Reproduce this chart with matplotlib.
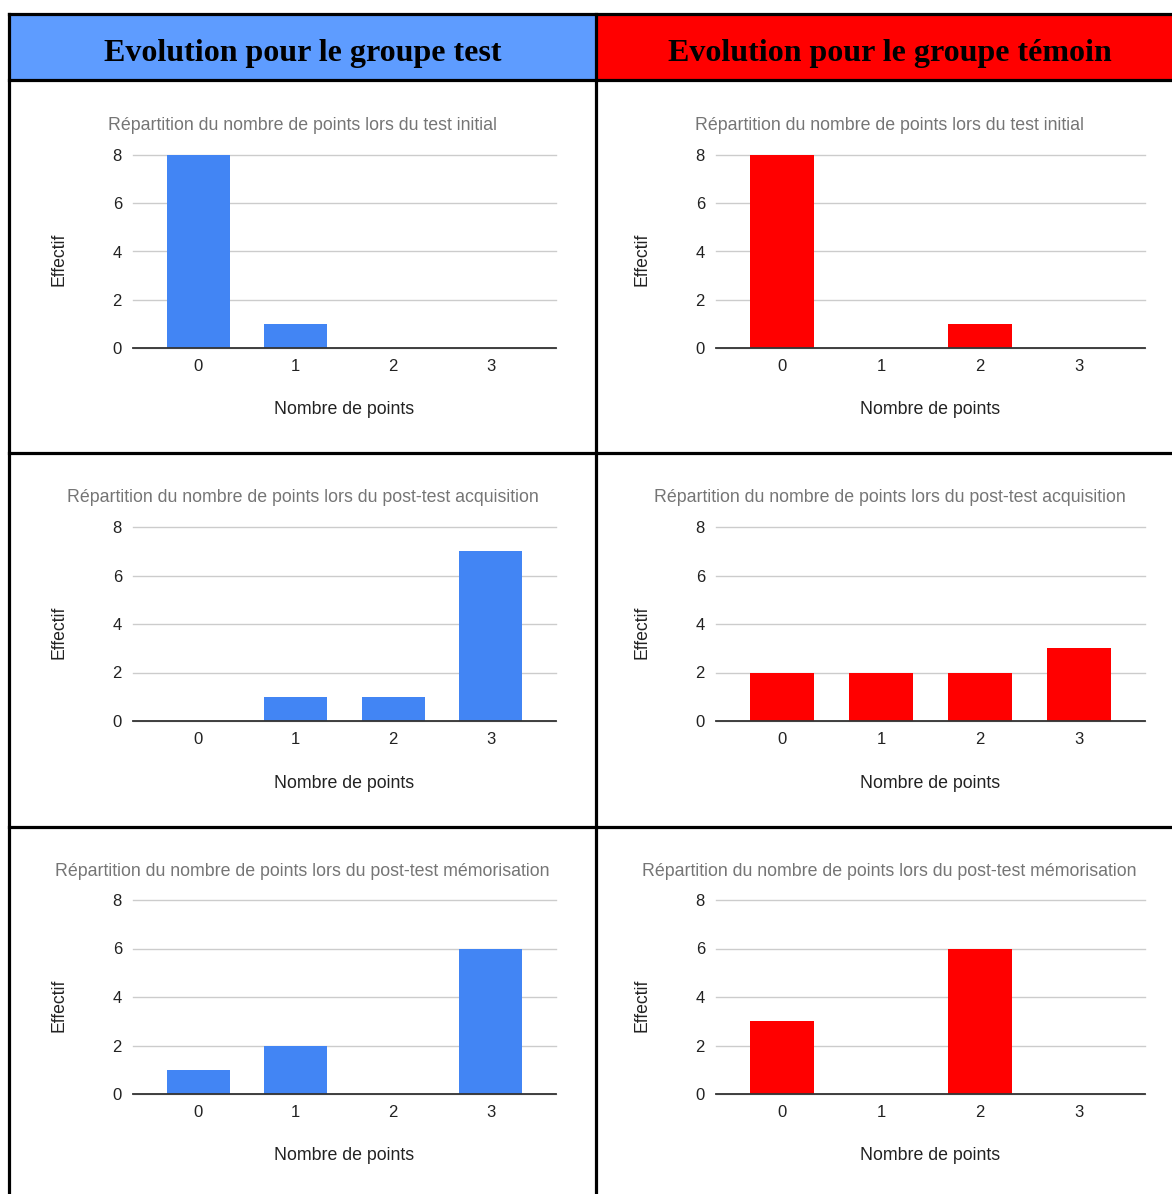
import matplotlib
matplotlib.use("Agg")
import matplotlib.pyplot as plt
from matplotlib.lines import Line2D
from matplotlib.patches import Rectangle

W, H = 1172, 1194
DPI = 100

categories = [0, 1, 2, 3]
yticks = [0, 2, 4, 6, 8]

headers = ["Evolution pour le groupe test", "Evolution pour le groupe témoin"]
titles = [
    "Répartition du nombre de points lors du test initial",
    "Répartition du nombre de points lors du post-test acquisition",
    "Répartition du nombre de points lors du post-test mémorisation",
]

test_initial = [8, 1, 0, 0]
test_acquisition = [0, 1, 1, 7]
test_memorisation = [1, 2, 0, 6]

temoin_initial = [8, 0, 1, 0]
temoin_acquisition = [2, 2, 2, 3]
temoin_memorisation = [3, 0, 6, 0]

BLUE_HEAD = "#5e9cff"
RED_HEAD = "#ff0000"
BLUE_BAR = "#4285f4"
RED_BAR = "#ff0000"

fig = plt.figure(figsize=(W / DPI, H / DPI), dpi=DPI)
fig.patch.set_facecolor("white")


def fx(x):
    return x / W


def fy(y):
    return 1 - y / H


# table geometry (pixels)
col_x = [9, 596, 1183]
row_y = [14, 80, 453, 827, 1200]

# header cells
for i, (head, col) in enumerate(zip(headers, [BLUE_HEAD, RED_HEAD])):
    x0, x1 = col_x[i], col_x[i + 1]
    fig.add_artist(Rectangle((fx(x0), fy(row_y[1])), fx(x1 - x0), (row_y[1] - row_y[0]) / H,
                             transform=fig.transFigure, facecolor=col, edgecolor="none", zorder=0))
    fig.text(fx((x0 + x1) / 2), fy((row_y[0] + row_y[1]) / 2 + 7), head,
             ha="center", va="center", fontsize=23, fontweight="bold",
             family="Liberation Serif", color="black")

# borders
lw = 2.3
for y in row_y[:-1]:
    fig.add_artist(Line2D([fx(col_x[0]), fx(col_x[-1])], [fy(y), fy(y)], color="black",
                          lw=lw, transform=fig.transFigure, zorder=5))
for x in col_x:
    fig.add_artist(Line2D([fx(x), fx(x)], [fy(row_y[0]), fy(row_y[-1])], color="black",
                          lw=lw, transform=fig.transFigure, zorder=5))

groups = [
    ([test_initial, test_acquisition, test_memorisation], BLUE_BAR, (133, 556), 59),
    ([temoin_initial, temoin_acquisition, temoin_memorisation], RED_BAR, (716, 1145), 642),
]
plot_tops = [155, 527, 900]
plot_bottoms = [348, 721, 1094]

for ci, (series_list, color, (px0, px1), ylab_x) in enumerate(groups):
    cell_cx = (col_x[ci] + col_x[ci + 1]) / 2
    for ri, values in enumerate(series_list):
        top, bot = plot_tops[ri], plot_bottoms[ri]
        ax = fig.add_axes([fx(px0), fy(bot), fx(px1 - px0), (bot - top) / H])
        ax.bar(categories, values, width=0.65, color=color, zorder=2)
        ax.set_xlim(-0.67, 3.67)
        ax.set_ylim(0, 8)
        ax.set_yticks(yticks)
        ax.set_xticks(categories)
        ax.tick_params(length=0, labelsize=12, colors="#222222", pad=8)
        ax.tick_params(axis="x", pad=8)
        for s in ax.spines.values():
            s.set_visible(False)
        ax.yaxis.grid(True, color="#cccccc", lw=1, zorder=0)
        for gl in ax.get_ygridlines():
            gl.set_clip_on(False)
        ax.axhline(0, color="#333333", lw=1.3, zorder=3, clip_on=False)
        ax.set_facecolor("none")

        fig.text(fx(cell_cx), fy(top - 29), titles[ri], ha="center", va="center",
                 fontsize=12.8, color="#757575", family="Liberation Sans")
        fig.text(fx((px0 + px1) / 2), fy(bot + 62), "Nombre de points", ha="center",
                 va="center", fontsize=12.8, color="#222222", family="Liberation Sans")
        fig.text(fx(ylab_x), fy((top + bot) / 2 + 8), "Effectif", ha="center", va="center",
                 rotation=90, fontsize=12.7, color="#222222", family="Liberation Sans")
        for lab in ax.get_xticklabels() + ax.get_yticklabels():
            lab.set_family("Liberation Sans")

fig.savefig("out.png", dpi=DPI)
